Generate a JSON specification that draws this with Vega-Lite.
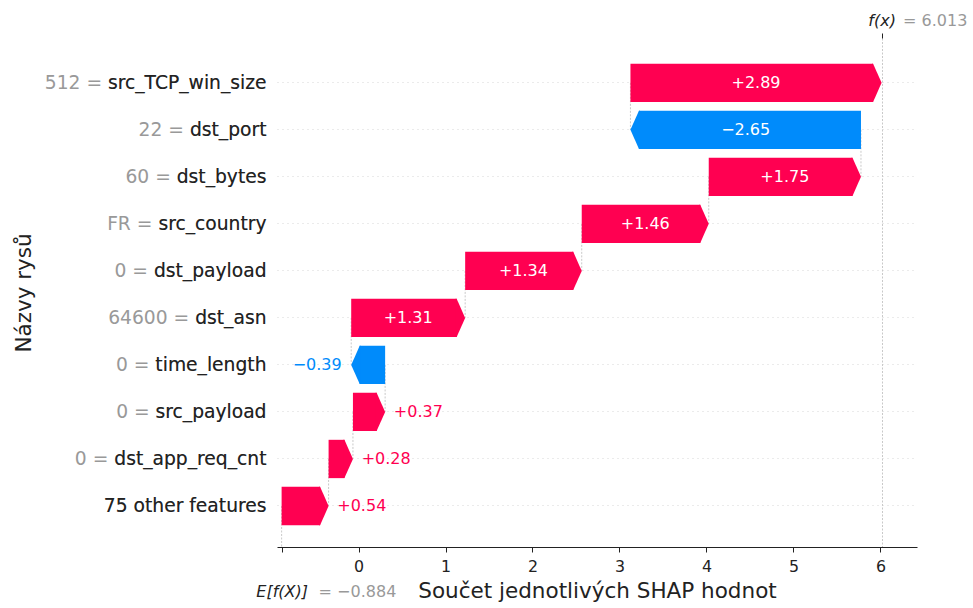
{
  "$schema": "https://vega.github.io/schema/vega-lite/v6.json",
  "width": 640,
  "height": 509,
  "autosize": {"type": "none"},
  "padding": {"left": 277, "top": 38, "right": 56, "bottom": 61},
  "background": "white",
  "config": {
    "view": {"stroke": null},
    "font": "DejaVu Sans",
    "axis": {"labelFont": "DejaVu Sans", "titleFont": "DejaVu Sans"},
    "text": {"font": "DejaVu Sans"}
  },
  "datasets": {
    "rows": [
      {"label": "512 = src_TCP_win_size", "value": 2.89, "start": 3.126, "end": 6.013, "next": "22 = dst_port"},
      {"label": "22 = dst_port", "value": -2.65, "start": 5.776, "end": 3.126, "next": "60 = dst_bytes"},
      {"label": "60 = dst_bytes", "value": 1.75, "start": 4.026, "end": 5.776, "next": "FR = src_country"},
      {"label": "FR = src_country", "value": 1.46, "start": 2.566, "end": 4.026, "next": "0 = dst_payload"},
      {"label": "0 = dst_payload", "value": 1.34, "start": 1.226, "end": 2.566, "next": "64600 = dst_asn"},
      {"label": "64600 = dst_asn", "value": 1.31, "start": -0.084, "end": 1.226, "next": "0 = time_length"},
      {"label": "0 = time_length", "value": -0.39, "start": 0.306, "end": -0.084, "next": "0 = src_payload"},
      {"label": "0 = src_payload", "value": 0.37, "start": -0.064, "end": 0.306, "next": "0 = dst_app_req_cnt"},
      {"label": "0 = dst_app_req_cnt", "value": 0.28, "start": -0.344, "end": -0.064, "next": "75 other features"},
      {"label": "75 other features", "value": 0.54, "start": -0.884, "end": -0.344, "next": null}
    ],
    "summary": [{"base": -0.884, "fx": 6.013}]
  },
  "resolve": {"axis": {"x": "independent", "y": "independent"}},
  "layer": [
    {
      "data": {"name": "rows"},
      "transform": [{"filter": "datum.next != null"}],
      "mark": {"type": "rule", "color": "#bbbbbb", "strokeWidth": 0.8, "strokeDash": [2, 1.5]},
      "encoding": {
        "x": {"field": "start", "type": "quantitative", "scale": {"domain": [-0.937, 6.42], "nice": false, "zero": false},
          "axis": {"orient": "bottom", "values": [-0.884], "domain": false, "ticks": true, "tickSize": 5, "tickColor": "#222", "tickWidth": 1, "grid": false,
            "labelExpr": "'E[f(X)]'", "labelFontStyle": "italic", "labelFontSize": 16, "labelColor": "#222", "labelPadding": 31, "labelAlign": "center", "title": null}},
        "y": {"field": "label", "type": "nominal", "scale": {"domain": ["512 = src_TCP_win_size", "22 = dst_port", "60 = dst_bytes", "FR = src_country", "0 = dst_payload", "64600 = dst_asn", "0 = time_length", "0 = src_payload", "0 = dst_app_req_cnt", "75 other features"], "paddingInner": 0.185, "paddingOuter": 0.505, "align": 0.54}, "axis": null},
        "y2": {"field": "next"}
      }
    },
    {
      "data": {"name": "summary"},
      "mark": {"type": "rule", "color": "#bbbbbb", "strokeWidth": 0.8, "strokeDash": [2, 1.5]},
      "encoding": {
        "x": {"field": "base", "type": "quantitative", "scale": {"domain": [-0.937, 6.42], "nice": false, "zero": false},
          "axis": {"orient": "bottom", "values": [-0.884], "domain": false, "ticks": true, "tickOpacity": 0, "tickSize": 5, "grid": false,
            "labelExpr": "'= \u2212' + '0.884'", "labelFontSize": 16, "labelColor": "#999999", "labelPadding": 31, "labelAlign": "left", "labelOffset": 36.5, "title": null}},
        "y": {"datum": "75 other features", "type": "nominal", "scale": {"domain": ["512 = src_TCP_win_size", "22 = dst_port", "60 = dst_bytes", "FR = src_country", "0 = dst_payload", "64600 = dst_asn", "0 = time_length", "0 = src_payload", "0 = dst_app_req_cnt", "75 other features"], "paddingInner": 0.185, "paddingOuter": 0.505, "align": 0.54}, "axis": null},
        "y2": {"value": "height"}
      }
    },
    {
      "data": {"name": "rows"},
      "transform": [{"filter": "datum.value > 0"}],
      "mark": {"type": "bar", "color": "#ff0051", "x2Offset": -8.5},
      "encoding": {
        "x": {"field": "start", "type": "quantitative", "scale": {"domain": [-0.937, 6.42], "nice": false, "zero": false},
          "axis": {"orient": "bottom", "values": [0, 1, 2, 3, 4, 5, 6], "domain": true, "domainColor": "#222", "domainWidth": 1.2, "ticks": true, "tickSize": 5, "tickColor": "#222", "grid": false,
            "labelFontSize": 15.8, "labelColor": "#222", "labelPadding": 7, "title": "Součet jednotlivých SHAP hodnot", "titleFontSize": 21.5, "titleFontWeight": "normal", "titleColor": "#222", "titlePadding": 7}},
        "x2": {"field": "end"},
        "y": {"field": "label", "type": "nominal", "scale": {"domain": ["512 = src_TCP_win_size", "22 = dst_port", "60 = dst_bytes", "FR = src_country", "0 = dst_payload", "64600 = dst_asn", "0 = time_length", "0 = src_payload", "0 = dst_app_req_cnt", "75 other features"], "paddingInner": 0.185, "paddingOuter": 0.505, "align": 0.54},
          "axis": {"orient": "left", "domain": false, "ticks": false, "grid": false, "labelFontSize": 18.7, "labelColor": "#999999", "labelPadding": 11, "labelLimit": 400,
            "title": "Názvy rysů", "titleFontSize": 21.5, "titleFontWeight": "normal", "titleColor": "#222", "titlePadding": 42}}
      }
    },
    {
      "data": {"name": "rows"},
      "transform": [{"filter": "datum.value < 0"}],
      "mark": {"type": "bar", "color": "#008bfb", "x2Offset": 8.5},
      "encoding": {
        "x": {"field": "start", "type": "quantitative", "scale": {"domain": [-0.937, 6.42], "nice": false, "zero": false}, "axis": null},
        "x2": {"field": "end"},
        "y": {"field": "label", "type": "nominal", "scale": {"domain": ["512 = src_TCP_win_size", "22 = dst_port", "60 = dst_bytes", "FR = src_country", "0 = dst_payload", "64600 = dst_asn", "0 = time_length", "0 = src_payload", "0 = dst_app_req_cnt", "75 other features"], "paddingInner": 0.185, "paddingOuter": 0.505, "align": 0.54}, "axis": null}
      }
    },
    {
      "data": {"name": "rows"},
      "transform": [{"filter": "datum.value > 0"}],
      "mark": {"type": "point", "shape": "M-0.5,-1L-0.444,-1L0,0L-0.444,1L-0.5,1Z", "size": 1467, "filled": true, "opacity": 1, "color": "#ff0051", "strokeWidth": 0},
      "encoding": {
        "x": {"field": "end", "type": "quantitative", "scale": {"domain": [-0.937, 6.42], "nice": false, "zero": false},
          "axis": {"orient": "top", "values": [6.013], "domain": false, "ticks": true, "tickSize": 5, "tickColor": "#222", "grid": true, "gridColor": "#bbbbbb", "gridDash": [2, 1.5], "gridWidth": 0.8,
            "labelExpr": "'f(x)'", "labelFontStyle": "italic", "labelFontSize": 16, "labelColor": "#222", "labelPadding": 5, "labelAlign": "center", "title": null}},
        "y": {"field": "label", "type": "nominal", "scale": {"domain": ["512 = src_TCP_win_size", "22 = dst_port", "60 = dst_bytes", "FR = src_country", "0 = dst_payload", "64600 = dst_asn", "0 = time_length", "0 = src_payload", "0 = dst_app_req_cnt", "75 other features"], "paddingInner": 0.185, "paddingOuter": 0.505, "align": 0.54},
          "axis": {"orient": "left", "domain": false, "ticks": false, "grid": true, "bandPosition": 0.5, "gridColor": "#cccccc", "gridDash": [1, 4], "gridWidth": 0.8,
            "labelFontSize": 18.7, "labelColor": "#222", "labelPadding": 11, "labelLimit": 400,
            "labelExpr": "indexof(datum.label, ' = ') >= 0 ? substring(datum.label, indexof(datum.label, ' = ') + 3) : datum.label", "title": null}}
      }
    },
    {
      "data": {"name": "rows"},
      "transform": [{"filter": "datum.value < 0"}],
      "mark": {"type": "point", "shape": "M0.5,-1L0.444,-1L0,0L0.444,1L0.5,1Z", "size": 1467, "filled": true, "opacity": 1, "color": "#008bfb", "strokeWidth": 0},
      "encoding": {
        "x": {"field": "end", "type": "quantitative", "scale": {"domain": [-0.937, 6.42], "nice": false, "zero": false},
          "axis": {"orient": "top", "values": [6.013], "domain": false, "ticks": true, "tickOpacity": 0, "tickSize": 5, "grid": false,
            "labelExpr": "'= 6.013'", "labelFontSize": 16, "labelColor": "#999999", "labelPadding": 5, "labelAlign": "left", "labelOffset": 21, "title": null}},
        "y": {"field": "label", "type": "nominal", "scale": {"domain": ["512 = src_TCP_win_size", "22 = dst_port", "60 = dst_bytes", "FR = src_country", "0 = dst_payload", "64600 = dst_asn", "0 = time_length", "0 = src_payload", "0 = dst_app_req_cnt", "75 other features"], "paddingInner": 0.185, "paddingOuter": 0.505, "align": 0.54}, "axis": null}
      }
    },
    {
      "data": {"name": "rows"},
      "transform": [
        {"filter": "abs(datum.value) > 1"},
        {"fold": ["start", "end"], "as": ["k", "v"]},
        {"aggregate": [{"op": "mean", "field": "v", "as": "mid"}], "groupby": ["label", "value"]}
      ],
      "mark": {"type": "text", "color": "white", "fontSize": 16, "align": "center", "baseline": "middle"},
      "encoding": {
        "x": {"field": "mid", "type": "quantitative", "scale": {"domain": [-0.937, 6.42], "nice": false, "zero": false}, "axis": null},
        "y": {"field": "label", "type": "nominal", "scale": {"domain": ["512 = src_TCP_win_size", "22 = dst_port", "60 = dst_bytes", "FR = src_country", "0 = dst_payload", "64600 = dst_asn", "0 = time_length", "0 = src_payload", "0 = dst_app_req_cnt", "75 other features"], "paddingInner": 0.185, "paddingOuter": 0.505, "align": 0.54}, "axis": null},
        "text": {"field": "value", "type": "quantitative", "format": "+.2f"}
      }
    },
    {
      "data": {"name": "rows"},
      "transform": [{"filter": "datum.value > 0 && datum.value < 1"}],
      "mark": {"type": "text", "color": "#ff0051", "fontSize": 16, "align": "left", "baseline": "middle", "dx": 8.7},
      "encoding": {
        "x": {"field": "end", "type": "quantitative", "scale": {"domain": [-0.937, 6.42], "nice": false, "zero": false}, "axis": null},
        "y": {"field": "label", "type": "nominal", "scale": {"domain": ["512 = src_TCP_win_size", "22 = dst_port", "60 = dst_bytes", "FR = src_country", "0 = dst_payload", "64600 = dst_asn", "0 = time_length", "0 = src_payload", "0 = dst_app_req_cnt", "75 other features"], "paddingInner": 0.185, "paddingOuter": 0.505, "align": 0.54}, "axis": null},
        "text": {"field": "value", "type": "quantitative", "format": "+.2f"}
      }
    },
    {
      "data": {"name": "rows"},
      "transform": [{"filter": "datum.value < 0 && datum.value > -1"}],
      "mark": {"type": "text", "color": "#008bfb", "fontSize": 16, "align": "right", "baseline": "middle", "dx": -9.5},
      "encoding": {
        "x": {"field": "end", "type": "quantitative", "scale": {"domain": [-0.937, 6.42], "nice": false, "zero": false}, "axis": null},
        "y": {"field": "label", "type": "nominal", "scale": {"domain": ["512 = src_TCP_win_size", "22 = dst_port", "60 = dst_bytes", "FR = src_country", "0 = dst_payload", "64600 = dst_asn", "0 = time_length", "0 = src_payload", "0 = dst_app_req_cnt", "75 other features"], "paddingInner": 0.185, "paddingOuter": 0.505, "align": 0.54}, "axis": null},
        "text": {"field": "value", "type": "quantitative", "format": "+.2f"}
      }
    }
  ]
}
